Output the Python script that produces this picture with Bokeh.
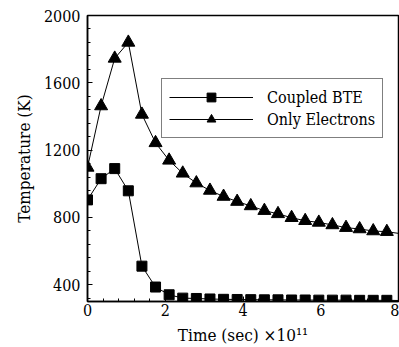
from bokeh.plotting import figure
from bokeh.models import Range1d, SingleIntervalTicker, Legend, LegendItem
from bokeh.embed import file_html
from bokeh.resources import INLINE

# ---- data ----
time = [0.0, 0.35, 0.7, 1.05, 1.4, 1.75, 2.1, 2.45, 2.8, 3.15, 3.5, 3.85,
        4.2, 4.55, 4.9, 5.25, 5.6, 5.95, 6.3, 6.65, 7.0, 7.35, 7.7]
coupled_bte = [904, 1030, 1090, 958, 510, 386, 340, 320, 318, 315, 313, 312,
               311, 310, 310, 309, 309, 308, 308, 308, 307, 307, 307]
only_electrons = [1097, 1462, 1745, 1840, 1412, 1243, 1139, 1062, 1004, 960, 924, 894,
                  868, 840, 821, 798, 780, 770, 755, 739, 731, 719, 715]
# the curves run on (without a marker) to the right edge of the frame
end_time = 8.0
coupled_bte_end = 306
only_electrons_end = 705

series_names = ["Coupled BTE", "Only Electrons"]
x_label = "Time (sec) \u00d710\u00b9\u00b9"
y_label = "Temperature (K)"

FONT = "DejaVu Serif Condensed"

p = figure(width=399, height=347, output_backend="svg", toolbar_location=None,
           x_range=Range1d(0, 8), y_range=Range1d(300, 2000),
           min_border_left=87, min_border_right=1, min_border_top=15,
           min_border_bottom=10)

p.xgrid.visible = False
p.ygrid.visible = False
p.background_fill_color = "white"
p.border_fill_color = "white"
p.outline_line_color = "black"
p.outline_line_width = 1.5

line_x = time + [end_time]
l1 = p.line(line_x, coupled_bte + [coupled_bte_end], line_color="black", line_width=1)
s1 = p.scatter(time, coupled_bte, marker="square", size=10,
               fill_color="black", line_color="black")
l2 = p.line(line_x, only_electrons + [only_electrons_end], line_color="black", line_width=1)
s2 = p.scatter(time, only_electrons, marker="triangle", size=13,
               fill_color="black", line_color="black")

for ax in (p.xaxis[0], p.yaxis[0]):
    ax.axis_line_color = "black"
    ax.axis_line_width = 1.5
    ax.major_tick_in = 5
    ax.major_tick_out = 0
    ax.minor_tick_in = 3
    ax.minor_tick_out = 0
    ax.major_tick_line_color = "black"
    ax.minor_tick_line_color = "black"
    ax.major_label_text_font = FONT
    ax.major_label_text_font_size = "16px"
    ax.major_label_text_color = "black"
    ax.axis_label_text_font = FONT
    ax.axis_label_text_font_size = "17px"
    ax.axis_label_text_font_style = "normal"
    ax.axis_label_text_color = "black"

p.xaxis[0].ticker = SingleIntervalTicker(interval=2, num_minor_ticks=5)
p.yaxis[0].ticker = SingleIntervalTicker(interval=400, num_minor_ticks=5)
p.xaxis[0].axis_label = x_label
p.yaxis[0].axis_label = y_label
p.xaxis[0].major_label_standoff = 2
p.xaxis[0].axis_label_standoff = 6
p.yaxis[0].major_label_standoff = 7
p.yaxis[0].axis_label_standoff = 7

legend = Legend(items=[LegendItem(label=series_names[0], renderers=[l1, s1]),
                       LegendItem(label=series_names[1], renderers=[l2, s2])],
                location=(74, 163))
legend.border_line_color = "black"
legend.border_line_width = 1
legend.background_fill_color = "white"
legend.background_fill_alpha = 1
legend.label_text_font = FONT
legend.label_text_font_size = "16px"
legend.label_text_color = "black"
legend.glyph_width = 84
legend.glyph_height = 22
legend.label_height = 22
legend.label_standoff = 14
legend.spacing = 0
legend.padding = 7
legend.margin = 0
p.add_layout(legend, "center")

open("out.html", "w").write(file_html(p, INLINE))
